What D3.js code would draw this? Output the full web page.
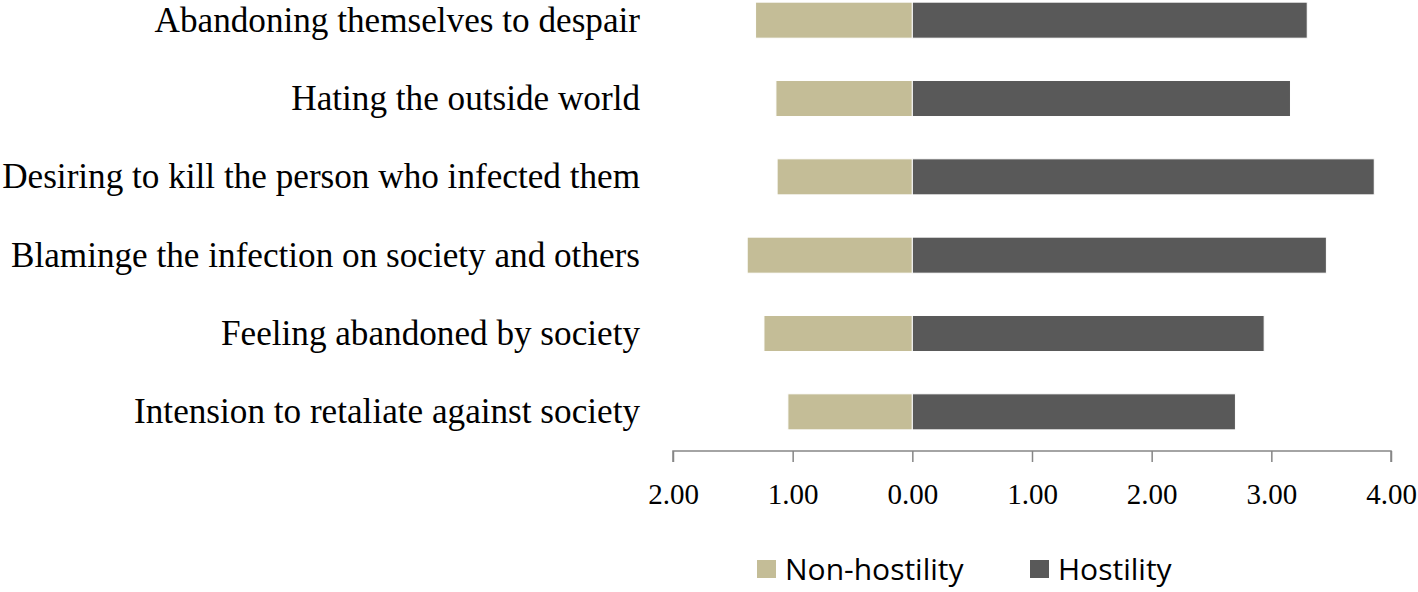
<!DOCTYPE html>
<html>
<head>
<meta charset="utf-8">
<script src="https://cdn.jsdelivr.net/npm/d3@7"></script>
<style>
  html, body { margin: 0; padding: 0; background: #fff; }
  svg { display: block; }
</style>
</head>
<body>
<svg id="chart" width="1418" height="592"></svg>
<script>
const categories = [
  "Abandoning themselves to despair",
  "Hating the outside world",
  "Desiring to kill the person who infected them",
  "Blaminge the infection on society and others",
  "Feeling abandoned by society",
  "Intension to retaliate against society"
];
const nonHostility = [1.31, 1.14, 1.13, 1.38, 1.24, 1.04];
const hostility = [3.30, 3.16, 3.86, 3.46, 2.94, 2.70];
const tickValues = [-2, -1, 0, 1, 2, 3, 4];
const seriesNames = ["Non-hostility", "Hostility"];
const colors = ["#c4bd97", "#595959"];

const svg = d3.select("#chart");

const x = d3.scaleLinear().domain([-2, 4]).range([673, 1391]);
const y = d3.scaleBand().domain(categories).range([-19, 451])
  .paddingInner(0.54).paddingOuter(0.27);

// bars
const g = svg.append("g");
g.selectAll("rect.non").data(categories).join("rect")
  .attr("class", "non")
  .attr("x", (d, i) => x(-nonHostility[i]))
  .attr("width", (d, i) => x(0) - x(-nonHostility[i]))
  .attr("y", d => y(d))
  .attr("height", y.bandwidth())
  .attr("fill", colors[0])
  .attr("stroke", "#ffffff").attr("stroke-width", 1);

g.selectAll("rect.hos").data(categories).join("rect")
  .attr("class", "hos")
  .attr("x", x(0))
  .attr("width", (d, i) => x(hostility[i]) - x(0))
  .attr("y", d => y(d))
  .attr("height", y.bandwidth())
  .attr("fill", colors[1])
  .attr("stroke", "#ffffff").attr("stroke-width", 1);

// category labels
const labels = svg.append("g").selectAll("text").data(categories).join("text")
  .attr("x", 640)
  .attr("y", d => y(d) + y.bandwidth() / 2)
  .attr("text-anchor", "end")
  .attr("dominant-baseline", "central")
  .attr("font-family", "'Liberation Serif', serif")
  .attr("font-size", 28)
  .attr("fill", "#000")
  .text(d => d);
// fit longest label width to the reference (~638px)
let maxW = 0;
labels.each(function() { maxW = Math.max(maxW, this.getComputedTextLength()); });
const fs = 28 * 638 / maxW;
labels.attr("font-size", fs);

// x axis
const axis = d3.axisBottom(x)
  .tickValues(tickValues)
  .tickSize(11)
  .tickFormat(d => Math.abs(d).toFixed(2));
const ax = svg.append("g").attr("transform", "translate(0,451)").call(axis);
ax.select(".domain").attr("stroke", "#868686").attr("stroke-width", 1.5)
  .attr("d", `M${x(-2)},11V0H${x(4)}V11`);
ax.selectAll(".tick line").attr("stroke", "#868686").attr("stroke-width", 1.5);
ax.selectAll(".tick text")
  .attr("font-family", "'Liberation Serif', serif")
  .attr("font-size", 29)
  .attr("fill", "#000")
  .attr("y", 0)
  .attr("dy", 0)
  .attr("transform", "translate(0,53)");

// legend
const legend = svg.append("g");
const legX = [757, 1030];
seriesNames.forEach((name, i) => {
  legend.append("rect")
    .attr("x", legX[i]).attr("y", 560)
    .attr("width", 19).attr("height", 18)
    .attr("fill", colors[i]);
  legend.append("text")
    .attr("x", legX[i] + 28).attr("y", 580)
    .attr("font-family", "'Open Sans', sans-serif")
    .attr("font-size", 30)
    .attr("fill", "#000")
    .text(name);
});
</script>
</body>
</html>
